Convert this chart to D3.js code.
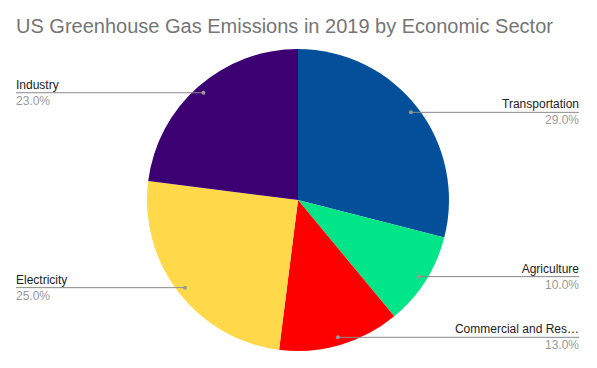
<!DOCTYPE html>
<html>
<head>
<meta charset="utf-8">
<script src="https://cdn.jsdelivr.net/npm/d3@7"></script>
<style>
  body { margin: 0; background: #fff; }
  svg { font-family: "Liberation Sans", Arial, sans-serif; }
</style>
</head>
<body>
<svg id="chart" width="597" height="368"></svg>
<script>
// chart data
var sectors = ["Transportation", "Agriculture", "Commercial and Res\u2026", "Electricity", "Industry"]
var shares = [29.0, 10.0, 13.0, 25.0, 23.0]
var colors = ["#034f99", "#00e588", "#ff0000", "#ffd94a", "#3d0073"]

var width = 597, height = 368
var cx = 298, cy = 200, radius = 151

var svg = d3.select("#chart")

svg.append("text")
    .attr("x", 16)
    .attr("y", 33)
    .attr("font-size", 20)
    .attr("fill", "#757575")
    .text("US Greenhouse Gas Emissions in 2019 by Economic Sector")

var data = sectors.map(function(d, i) { return { name: d, value: shares[i], color: colors[i] } })

var pie = d3.pie().sort(null).value(function(d) { return d.value })
var arc = d3.arc().innerRadius(0).outerRadius(radius)
var dotArc = d3.arc().innerRadius(radius * 0.947).outerRadius(radius * 0.947)

var g = svg.append("g").attr("transform", "translate(" + cx + "," + cy + ")")
var arcs = pie(data)

g.selectAll("path.slice")
    .data(arcs)
    .enter().append("path")
    .attr("class", "slice")
    .attr("d", arc)
    .attr("fill", function(d) { return d.data.color })

// leader lines and labels
var leftX = 16, rightX = 579
arcs.forEach(function(d) {
    var p = dotArc.centroid(d)
    var px = cx + p[0], py = cy + p[1]
    var right = p[0] > 0
    var endX = right ? rightX : leftX
    svg.append("line")
        .attr("x1", px).attr("y1", py)
        .attr("x2", endX).attr("y2", py)
        .attr("stroke", "#8a8a8a")
        .attr("stroke-width", 1)
    svg.append("circle")
        .attr("cx", px).attr("cy", py).attr("r", 2)
        .attr("fill", "#999")
    var anchor = right ? "end" : "start"
    svg.append("text")
        .attr("x", endX).attr("y", py - 4)
        .attr("text-anchor", anchor)
        .attr("font-size", 12)
        .attr("fill", "#222")
        .text(d.data.name)
    svg.append("text")
        .attr("x", endX).attr("y", py + 12)
        .attr("text-anchor", anchor)
        .attr("font-size", 12)
        .attr("fill", "#999")
        .text(d.data.value.toFixed(1) + "%")
})
</script>
</body>
</html>
